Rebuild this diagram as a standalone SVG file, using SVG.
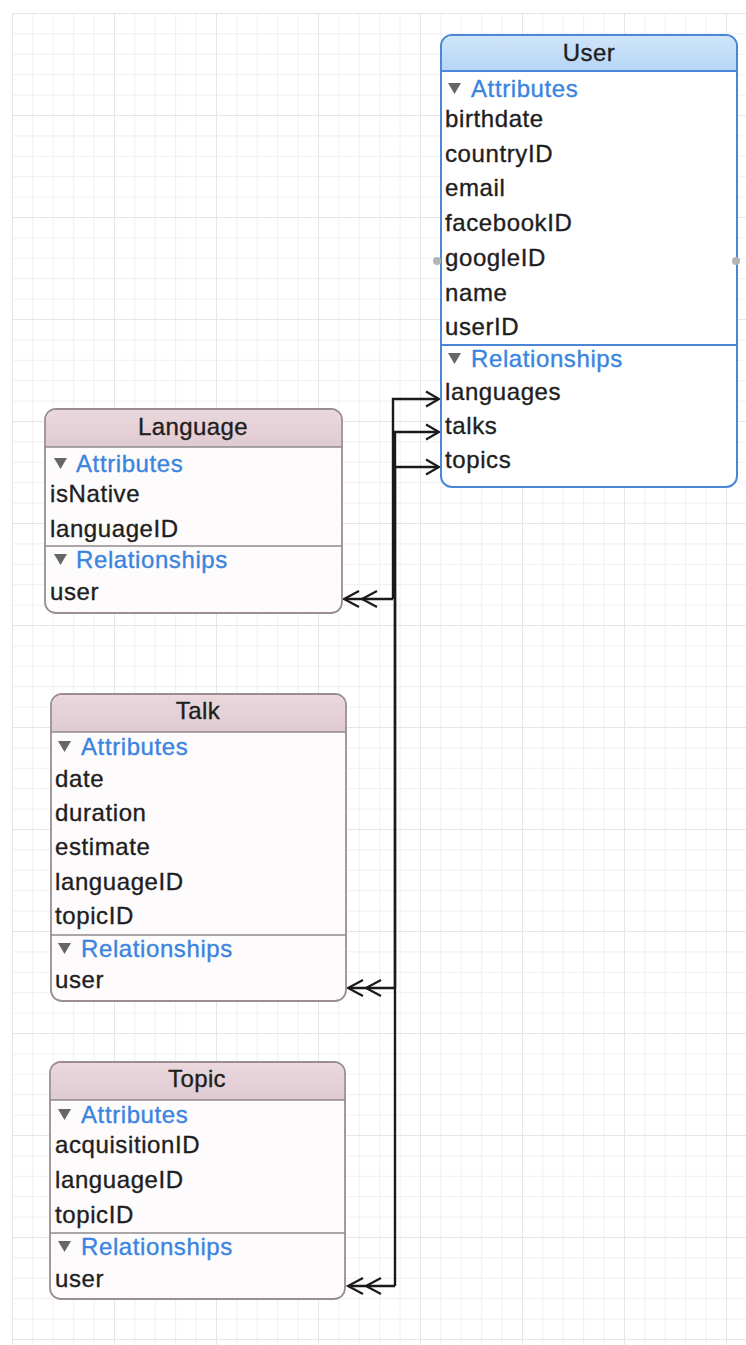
<svg xmlns="http://www.w3.org/2000/svg" width="746" height="1345" viewBox="0 0 746 1345">
<defs>
<pattern id="grid" x="12" y="13" width="20.4" height="20.4" patternUnits="userSpaceOnUse">
<path d="M0 0.5H20.4M0.5 0V20.4" fill="none" stroke="#efefef" stroke-width="1"/>
</pattern>
<pattern id="gridMajor" x="12" y="13" width="102" height="102" patternUnits="userSpaceOnUse">
<path d="M0 0.5H102M0.5 0V102" fill="none" stroke="#e6e6e6" stroke-width="1"/>
</pattern>
<linearGradient id="blueHead" x1="0" y1="0" x2="0" y2="1">
<stop offset="0" stop-color="#cfe5fa"/>
<stop offset="1" stop-color="#b5d6f5"/>
</linearGradient>
<linearGradient id="pinkHead" x1="0" y1="0" x2="0" y2="1">
<stop offset="0" stop-color="#ead8dd"/>
<stop offset="1" stop-color="#e0cad1"/>
</linearGradient>
<path id="tri" d="M0 0H13L6.5 11Z" fill="#666666"/>
</defs>
<style>
text{font-family:"Liberation Sans",Arial,sans-serif;font-size:24px;letter-spacing:0.6px;fill:#1e1e1e;stroke:#1e1e1e;stroke-width:0.35px}
.hd{text-anchor:middle;letter-spacing:0.4px}
.sec{fill:#3a84df;stroke:#3a84df}
.bodyB{fill:#ffffff;stroke:#4a87d9;stroke-width:2}
.bodyP{fill:#fdfbfc;stroke:#9a8e93;stroke-width:1.8}
.sepB{stroke:#4a87d9;stroke-width:1.8}
.sepP{stroke:#8f8a8c;stroke-width:1.5}
.conn{fill:none;stroke:#1a1a1a;stroke-width:2.4}
.head{fill:none;stroke:#1a1a1a;stroke-width:2.2;stroke-linejoin:miter}
</style>
<rect x="0" y="0" width="746" height="1345" fill="#ffffff"/>
<rect x="12" y="13" width="734" height="1332" fill="url(#grid)"/>
<rect x="12" y="13" width="734" height="1332" fill="url(#gridMajor)"/>

<g id="connectors">
<path class="conn" d="M393 599V399H438"/>
<path class="conn" d="M395 988V432H438"/>
<path class="conn" d="M395 1286V467H438"/>
<path class="conn" d="M393 599H345"/>
<path class="conn" d="M395 988H349"/>
<path class="conn" d="M395 1286H349"/>
<path class="head" d="M426 391.5L439 399L426 406.5"/>
<path class="head" d="M426 424.5L439 432L426 439.5"/>
<path class="head" d="M426 459.5L439 467L426 474.5"/>
<path class="head" d="M359 591L344 599L359 607M377 591L362 599L377 607"/>
<path class="head" d="M363 980L348 988L363 996M381 980L366 988L381 996"/>
<path class="head" d="M363 1278L348 1286L363 1294M381 1278L366 1286L381 1294"/>
</g>

<g id="User">
<rect class="bodyB" x="441" y="35" width="296" height="452" rx="11"/>
<path d="M452 36H726A10 10 0 0 1 736 46V71H442V46A10 10 0 0 1 452 36Z" fill="url(#blueHead)"/>
<line class="sepB" x1="441" y1="71" x2="737" y2="71"/>
<line class="sepB" x1="441" y1="345" x2="737" y2="345"/>
<text class="hd" x="589" y="61">User</text>
<use href="#tri" x="448" y="83"/>
<text class="sec" x="471" y="97">Attributes</text>
<text x="445" y="127">birthdate</text>
<text x="445" y="162">countryID</text>
<text x="445" y="196">email</text>
<text x="445" y="231">facebookID</text>
<text x="445" y="266">googleID</text>
<text x="445" y="301">name</text>
<text x="445" y="335">userID</text>
<use href="#tri" x="448" y="353"/>
<text class="sec" x="471" y="367">Relationships</text>
<text x="445" y="400">languages</text>
<text x="445" y="434">talks</text>
<text x="445" y="468">topics</text>
<circle cx="437" cy="261" r="4" fill="#b4b4b4"/>
<circle cx="736" cy="261" r="4" fill="#b4b4b4"/>
</g>

<g id="Language">
<rect class="bodyP" x="45" y="409" width="297" height="204" rx="11"/>
<path d="M56 410H331A10 10 0 0 1 341 420V447H46V420A10 10 0 0 1 56 410Z" fill="url(#pinkHead)"/>
<line class="sepP" x1="45" y1="447" x2="342" y2="447"/>
<line class="sepP" x1="45" y1="546" x2="342" y2="546"/>
<text class="hd" x="193" y="435">Language</text>
<use href="#tri" x="54" y="458"/>
<text class="sec" x="76" y="472">Attributes</text>
<text x="50" y="502">isNative</text>
<text x="50" y="537">languageID</text>
<use href="#tri" x="54" y="554"/>
<text class="sec" x="76" y="568">Relationships</text>
<text x="50" y="600">user</text>
</g>

<g id="Talk">
<rect class="bodyP" x="51" y="694" width="295" height="307" rx="11"/>
<path d="M62 695H335A10 10 0 0 1 345 705V732H52V705A10 10 0 0 1 62 695Z" fill="url(#pinkHead)"/>
<line class="sepP" x1="51" y1="732" x2="346" y2="732"/>
<line class="sepP" x1="51" y1="935" x2="346" y2="935"/>
<text class="hd" x="198" y="719">Talk</text>
<use href="#tri" x="58" y="741"/>
<text class="sec" x="81" y="755">Attributes</text>
<text x="55" y="787">date</text>
<text x="55" y="821">duration</text>
<text x="55" y="855">estimate</text>
<text x="55" y="890">languageID</text>
<text x="55" y="924">topicID</text>
<use href="#tri" x="58" y="943"/>
<text class="sec" x="81" y="957">Relationships</text>
<text x="55" y="988">user</text>
</g>

<g id="Topic">
<rect class="bodyP" x="50" y="1062" width="295" height="237" rx="11"/>
<path d="M61 1063H334A10 10 0 0 1 344 1073V1100H51V1073A10 10 0 0 1 61 1063Z" fill="url(#pinkHead)"/>
<line class="sepP" x1="50" y1="1100" x2="345" y2="1100"/>
<line class="sepP" x1="50" y1="1233" x2="345" y2="1233"/>
<text class="hd" x="197" y="1087">Topic</text>
<use href="#tri" x="58" y="1109"/>
<text class="sec" x="81" y="1123">Attributes</text>
<text x="55" y="1153">acquisitionID</text>
<text x="55" y="1188">languageID</text>
<text x="55" y="1223">topicID</text>
<use href="#tri" x="58" y="1241"/>
<text class="sec" x="81" y="1255">Relationships</text>
<text x="55" y="1287">user</text>
</g>
</svg>
